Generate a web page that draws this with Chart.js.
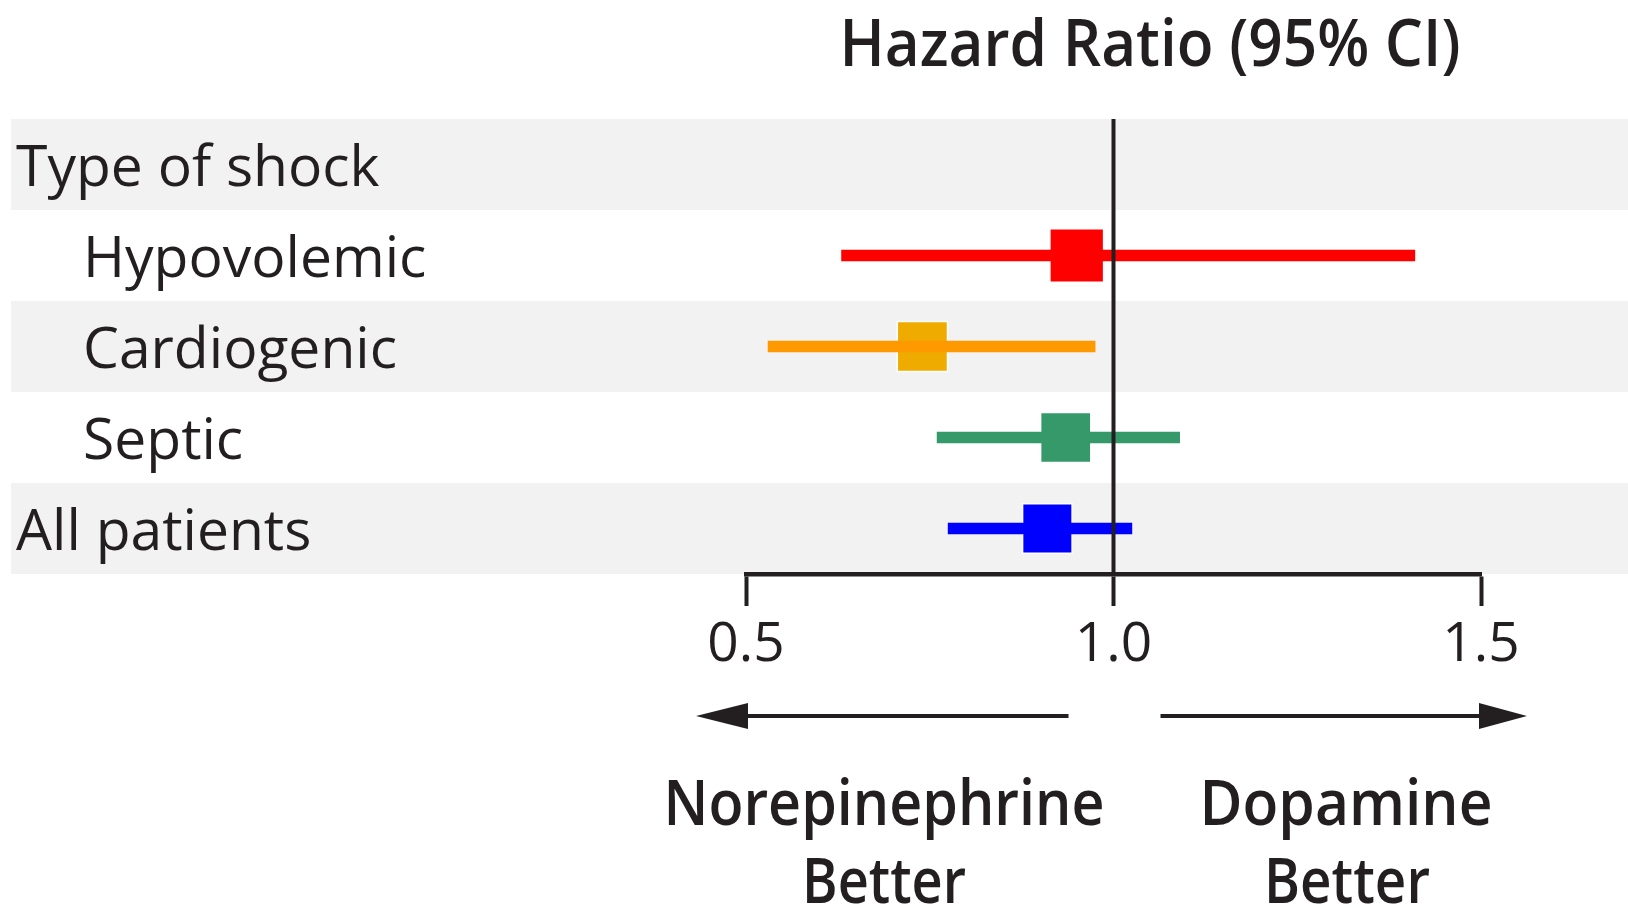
<!DOCTYPE html>
<html><head><meta charset="utf-8">
<script src="https://cdn.jsdelivr.net/npm/chart.js@4.4.1/dist/chart.umd.min.js"></script>
<style>html,body{margin:0;padding:0;background:#fff;overflow:hidden}#wrap{width:1628px;height:908px}</style>
</head><body><div id="wrap"><canvas id="c" width="1628" height="908"></canvas></div>
<script>
// ---- data ----
const categories = ['Type of shock', 'Hypovolemic', 'Cardiogenic', 'Septic', 'All patients'];
const indented   = [false, true, true, true, false];
const shadedRow  = [true, false, true, false, true];
const hazardRatio = [null, 0.95, 0.74, 0.935, 0.91];
const ciLower     = [null, 0.63, 0.53, 0.76, 0.775];
const ciUpper     = [null, 1.41, 0.975, 1.09, 1.025];
const xTickValues = [0.5, 1.0, 1.5];
const titleText = 'Hazard Ratio (95% CI)';
const leftDirection  = ['Norepinephrine', 'Better'];
const rightDirection = ['Dopamine', 'Better'];

// ---- styles ----
const INK = '#231f20';
const lineColors   = [null, '#ff0000', '#ff9900', '#35996a', '#0000ff'];
const squareColors = [null, '#ff0000', '#f0ab00', '#35996a', '#0000ff'];
const squareRadius = [0, 38, 35.5, 35.5, 35];
const FONT = '"Open Sans", "Noto Sans", sans-serif';

const rows = categories.map((c, i) => i).filter(i => hazardRatio[i] !== null);

const forestPlugin = {
  id: 'forest',
  beforeDraw(chart) {
    const {ctx, scales: {y}} = chart;
    const step = y.getPixelForValue(1) - y.getPixelForValue(0);
    ctx.save();
    ctx.fillStyle = '#fff';
    ctx.fillRect(0, 0, chart.width, chart.height);
    ctx.fillStyle = '#f2f2f2';
    categories.forEach((c, i) => {
      if (!shadedRow[i]) return;
      const cy = y.getPixelForValue(i);
      ctx.fillRect(11, cy - step / 2, chart.width - 11, step);
    });
    ctx.fillStyle = INK;
    ctx.font = '400 57px ' + FONT;
    ctx.textAlign = 'left';
    ctx.textBaseline = 'alphabetic';
    categories.forEach((c, i) => {
      const cy = y.getPixelForValue(i);
      ctx.fillText(c, indented[i] ? 83 : 16, cy + 21);
    });
    ctx.restore();
  },
  afterDatasetsDraw(chart) {
    const {ctx, chartArea, scales: {x}} = chart;
    const x1 = x.getPixelForValue(1.0);
    ctx.save();
    ctx.strokeStyle = INK;
    ctx.lineWidth = 4;
    ctx.beginPath();
    ctx.moveTo(x1, chartArea.top);
    ctx.lineTo(x1, chartArea.bottom);
    ctx.stroke();
    ctx.restore();
  },
  afterDraw(chart) {
    const {ctx, scales: {x}} = chart;
    const xl = x.getPixelForValue(0.5), xm = x.getPixelForValue(1.0), xr = x.getPixelForValue(1.5);
    ctx.save();
    ctx.fillStyle = INK;
    ctx.strokeStyle = INK;
    ctx.textAlign = 'center';
    ctx.textBaseline = 'alphabetic';
    ctx.font = '600 66px ' + FONT;
    ctx.fillText(titleText, 1150, 66, 621);
    const ay = 716;
    ctx.lineWidth = 4;
    ctx.beginPath();
    ctx.moveTo(xm - 45, ay); ctx.lineTo(xl, ay);
    ctx.moveTo(xm + 47, ay); ctx.lineTo(xr, ay);
    ctx.stroke();
    ctx.beginPath();
    ctx.moveTo(xl - 50, ay); ctx.lineTo(xl + 2, ay - 13); ctx.lineTo(xl + 2, ay + 13); ctx.closePath();
    ctx.moveTo(xr + 46, ay); ctx.lineTo(xr - 2, ay - 13); ctx.lineTo(xr - 2, ay + 13); ctx.closePath();
    ctx.fill();
    ctx.font = '600 64px ' + FONT;
    ctx.fillText(leftDirection[0], 884, 825, 441);
    ctx.fillText(leftDirection[1], 884, 903, 164);
    ctx.fillText(rightDirection[0], 1346, 825, 293);
    ctx.fillText(rightDirection[1], 1347, 903, 166);
    ctx.restore();
  }
};

new Chart(document.getElementById('c'), {
  type: 'bar',
  data: {
    labels: categories,
    datasets: [
      {
        type: 'bar',
        label: '95% CI',
        data: categories.map((c, i) => hazardRatio[i] === null ? null : [ciLower[i], ciUpper[i]]),
        backgroundColor: lineColors,
        borderWidth: 0,
        borderSkipped: false,
        barThickness: 11,
        order: 0
      },
      {
        type: 'scatter',
        label: 'Hazard ratio',
        data: rows.map(i => ({x: hazardRatio[i], y: categories[i]})),
        pointStyle: 'rect',
        pointRadius: rows.map(i => squareRadius[i]),
        pointHoverRadius: rows.map(i => squareRadius[i]),
        backgroundColor: rows.map(i => squareColors[i]),
        borderColor: '#ffffff',
        borderWidth: 1.5,
        order: 1
      }
    ]
  },
  options: {
    indexAxis: 'y',
    responsive: false,
    animation: false,
    devicePixelRatio: 1,
    layout: {padding: {left: 746, right: 147, top: 119, bottom: 224}},
    plugins: {legend: {display: false}, tooltip: {enabled: false}, title: {display: false}},
    scales: {
      x: {
        type: 'linear',
        min: 0.5,
        max: 1.5,
        afterBuildTicks: s => { s.ticks = xTickValues.map(v => ({value: v})); },
        grid: {drawOnChartArea: false, drawTicks: true, tickLength: 32, tickWidth: 4, tickColor: INK, color: INK},
        border: {display: true, width: 4.5, color: INK},
        ticks: {
          color: INK,
          padding: 6,
          font: {family: FONT, size: 55, weight: '400'},
          callback: v => Number(v).toFixed(1)
        }
      },
      y: {
        type: 'category',
        display: false,
        offset: true
      }
    }
  },
  plugins: [forestPlugin]
});
</script></body></html>
